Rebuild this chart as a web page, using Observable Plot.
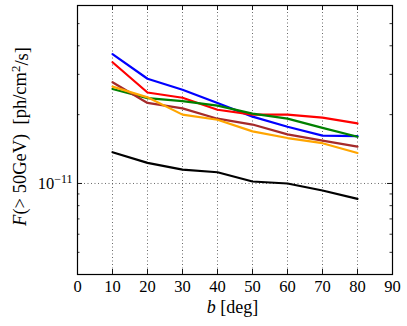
<!DOCTYPE html>
<html>
<head>
<meta charset="utf-8">
<script src="https://cdn.jsdelivr.net/npm/d3@7"></script>
<script src="https://cdn.jsdelivr.net/npm/@observablehq/plot@0.6"></script>
<style>
  html, body { margin: 0; padding: 0; background: #fff; }
  #chart svg { display: block; }
</style>
</head>
<body>
<div id="chart"></div>
<script>
// ---- data ----
const bDeg = [10, 20, 30, 40, 50, 60, 70, 80];
const fBlue   = [3.68e-11, 2.87e-11, 2.57e-11, 2.25e-11, 1.96e-11, 1.77e-11, 1.62e-11, 1.61e-11];
const fRed    = [3.39e-11, 2.50e-11, 2.37e-11, 2.10e-11, 2.00e-11, 2.00e-11, 1.94e-11, 1.83e-11];
const fGreen  = [2.59e-11, 2.36e-11, 2.29e-11, 2.19e-11, 2.02e-11, 1.92e-11, 1.75e-11, 1.60e-11];
const fBrown  = [2.77e-11, 2.25e-11, 2.13e-11, 1.92e-11, 1.81e-11, 1.64e-11, 1.54e-11, 1.45e-11];
const fOrange = [2.65e-11, 2.38e-11, 2.00e-11, 1.90e-11, 1.69e-11, 1.58e-11, 1.50e-11, 1.36e-11];
const fBlack  = [1.37e-11, 1.23e-11, 1.15e-11, 1.12e-11, 1.02e-11, 1.00e-11, 0.932e-11, 0.857e-11];

const seriesNames  = ["black", "blue", "red", "green", "brown", "orange"];
const seriesValues = [fBlack, fBlue, fRed, fGreen, fBrown, fOrange];
const seriesColors = ["#000000", "#0000ff", "#ff0000", "#008000", "#a52a2a", "#ffa500"];

const xTicks = [0, 10, 20, 30, 40, 50, 60, 70, 80, 90];
const xGrid = [10, 20, 30, 40, 50, 60, 70, 80];
const yMajor = [1e-11];
const yMinor = [5e-12, 6e-12, 7e-12, 8e-12, 9e-12, 2e-11, 3e-11, 4e-11, 5e-11];

// ---- build table ----
const rows = [];
seriesNames.forEach((name, i) => {
  bDeg.forEach((b, j) => rows.push({series: name, b, f: seriesValues[i][j]}));
});

const W = 407, H = 326;
const mL = 77, mR = 15, mT = 5, mB = 52;
const fw = W - mL - mR, fh = H - mT - mB;
const serif = "Liberation Serif, Times New Roman, serif";

const plot = Plot.plot({
  width: W, height: H,
  marginLeft: mL, marginRight: mR, marginTop: mT, marginBottom: mB,
  style: {fontFamily: serif, background: "#fff"},
  x: {domain: [0, 90], axis: null},
  y: {type: "log", domain: [4e-12, 6e-11], axis: null},
  color: {domain: seriesNames, range: seriesColors},
  marks: [
    // dotted grid
    Plot.ruleX(xGrid, {x: d => d, stroke: "#444", strokeWidth: 0.8, strokeDasharray: "1,2.5"}),
    Plot.ruleY(yMajor, {y: d => d, stroke: "#444", strokeWidth: 0.8, strokeDasharray: "1,2.5"}),
    // series lines
    ...seriesNames.map(name =>
      Plot.line(rows.filter(r => r.series === name), {x: "b", y: "f", stroke: "series", strokeWidth: 2.2, strokeLinejoin: "round"})
    ),
    // inward ticks
    Plot.tickX(xTicks, {x: d => d, insetTop: fh - 5, stroke: "#000", strokeWidth: 0.9}),
    Plot.tickX(xTicks, {x: d => d, insetBottom: fh - 5, stroke: "#000", strokeWidth: 0.9}),
    Plot.tickY(yMajor, {y: d => d, insetRight: fw - 5, stroke: "#000", strokeWidth: 0.9}),
    Plot.tickY(yMajor, {y: d => d, insetLeft: fw - 5, stroke: "#000", strokeWidth: 0.9}),
    Plot.tickY(yMinor, {y: d => d, insetRight: fw - 2.5, stroke: "#000", strokeWidth: 0.8}),
    Plot.tickY(yMinor, {y: d => d, insetLeft: fw - 2.5, stroke: "#000", strokeWidth: 0.8}),
    // tick labels
    Plot.axisX(xTicks, {tickSize: 0, tickPadding: 6, fontSize: 16.5, fontFamily: serif, label: null, tickFormat: d => String(d)}),
    Plot.axisY(yMajor, {tickSize: 0, tickPadding: 5, fontSize: 16.5, fontFamily: serif, label: null, tickFormat: () => "10"}),
    Plot.frame({stroke: "#000", strokeWidth: 1.2})
  ]
});

document.getElementById("chart").appendChild(plot);

// superscript exponent on the y tick label
const svg = d3.select(plot);
svg.selectAll('g[aria-label="y-axis tick label"] text').each(function() {
  const t = d3.select(this);
  t.text("10");
  t.append("tspan").attr("dy", "-0.45em").attr("font-size", "12px").text("\u221211");
});

// y-axis label
const yl = svg.append("text")
  .attr("transform", `translate(26,136.5) rotate(-90)`)
  .attr("text-anchor", "middle")
  .attr("font-family", serif)
  .attr("font-size", "18.5px")
  .attr("fill", "#000");
yl.append("tspan").attr("font-style", "italic").text("F");
yl.append("tspan").text("(> 50GeV)\u2002[ph/cm");
yl.append("tspan").attr("dy", "-0.45em").attr("font-size", "13px").text("2");
yl.append("tspan").attr("dy", "0.45em").text("/s]");

// x-axis label
const xl = svg.append("text")
  .attr("x", mL + fw / 2 - 2)
  .attr("y", 313)
  .attr("text-anchor", "middle")
  .attr("font-family", serif)
  .attr("font-size", "18px")
  .attr("fill", "#000");
xl.append("tspan").attr("font-style", "italic").text("b");
xl.append("tspan").text(" [deg]");
</script>
</body>
</html>
